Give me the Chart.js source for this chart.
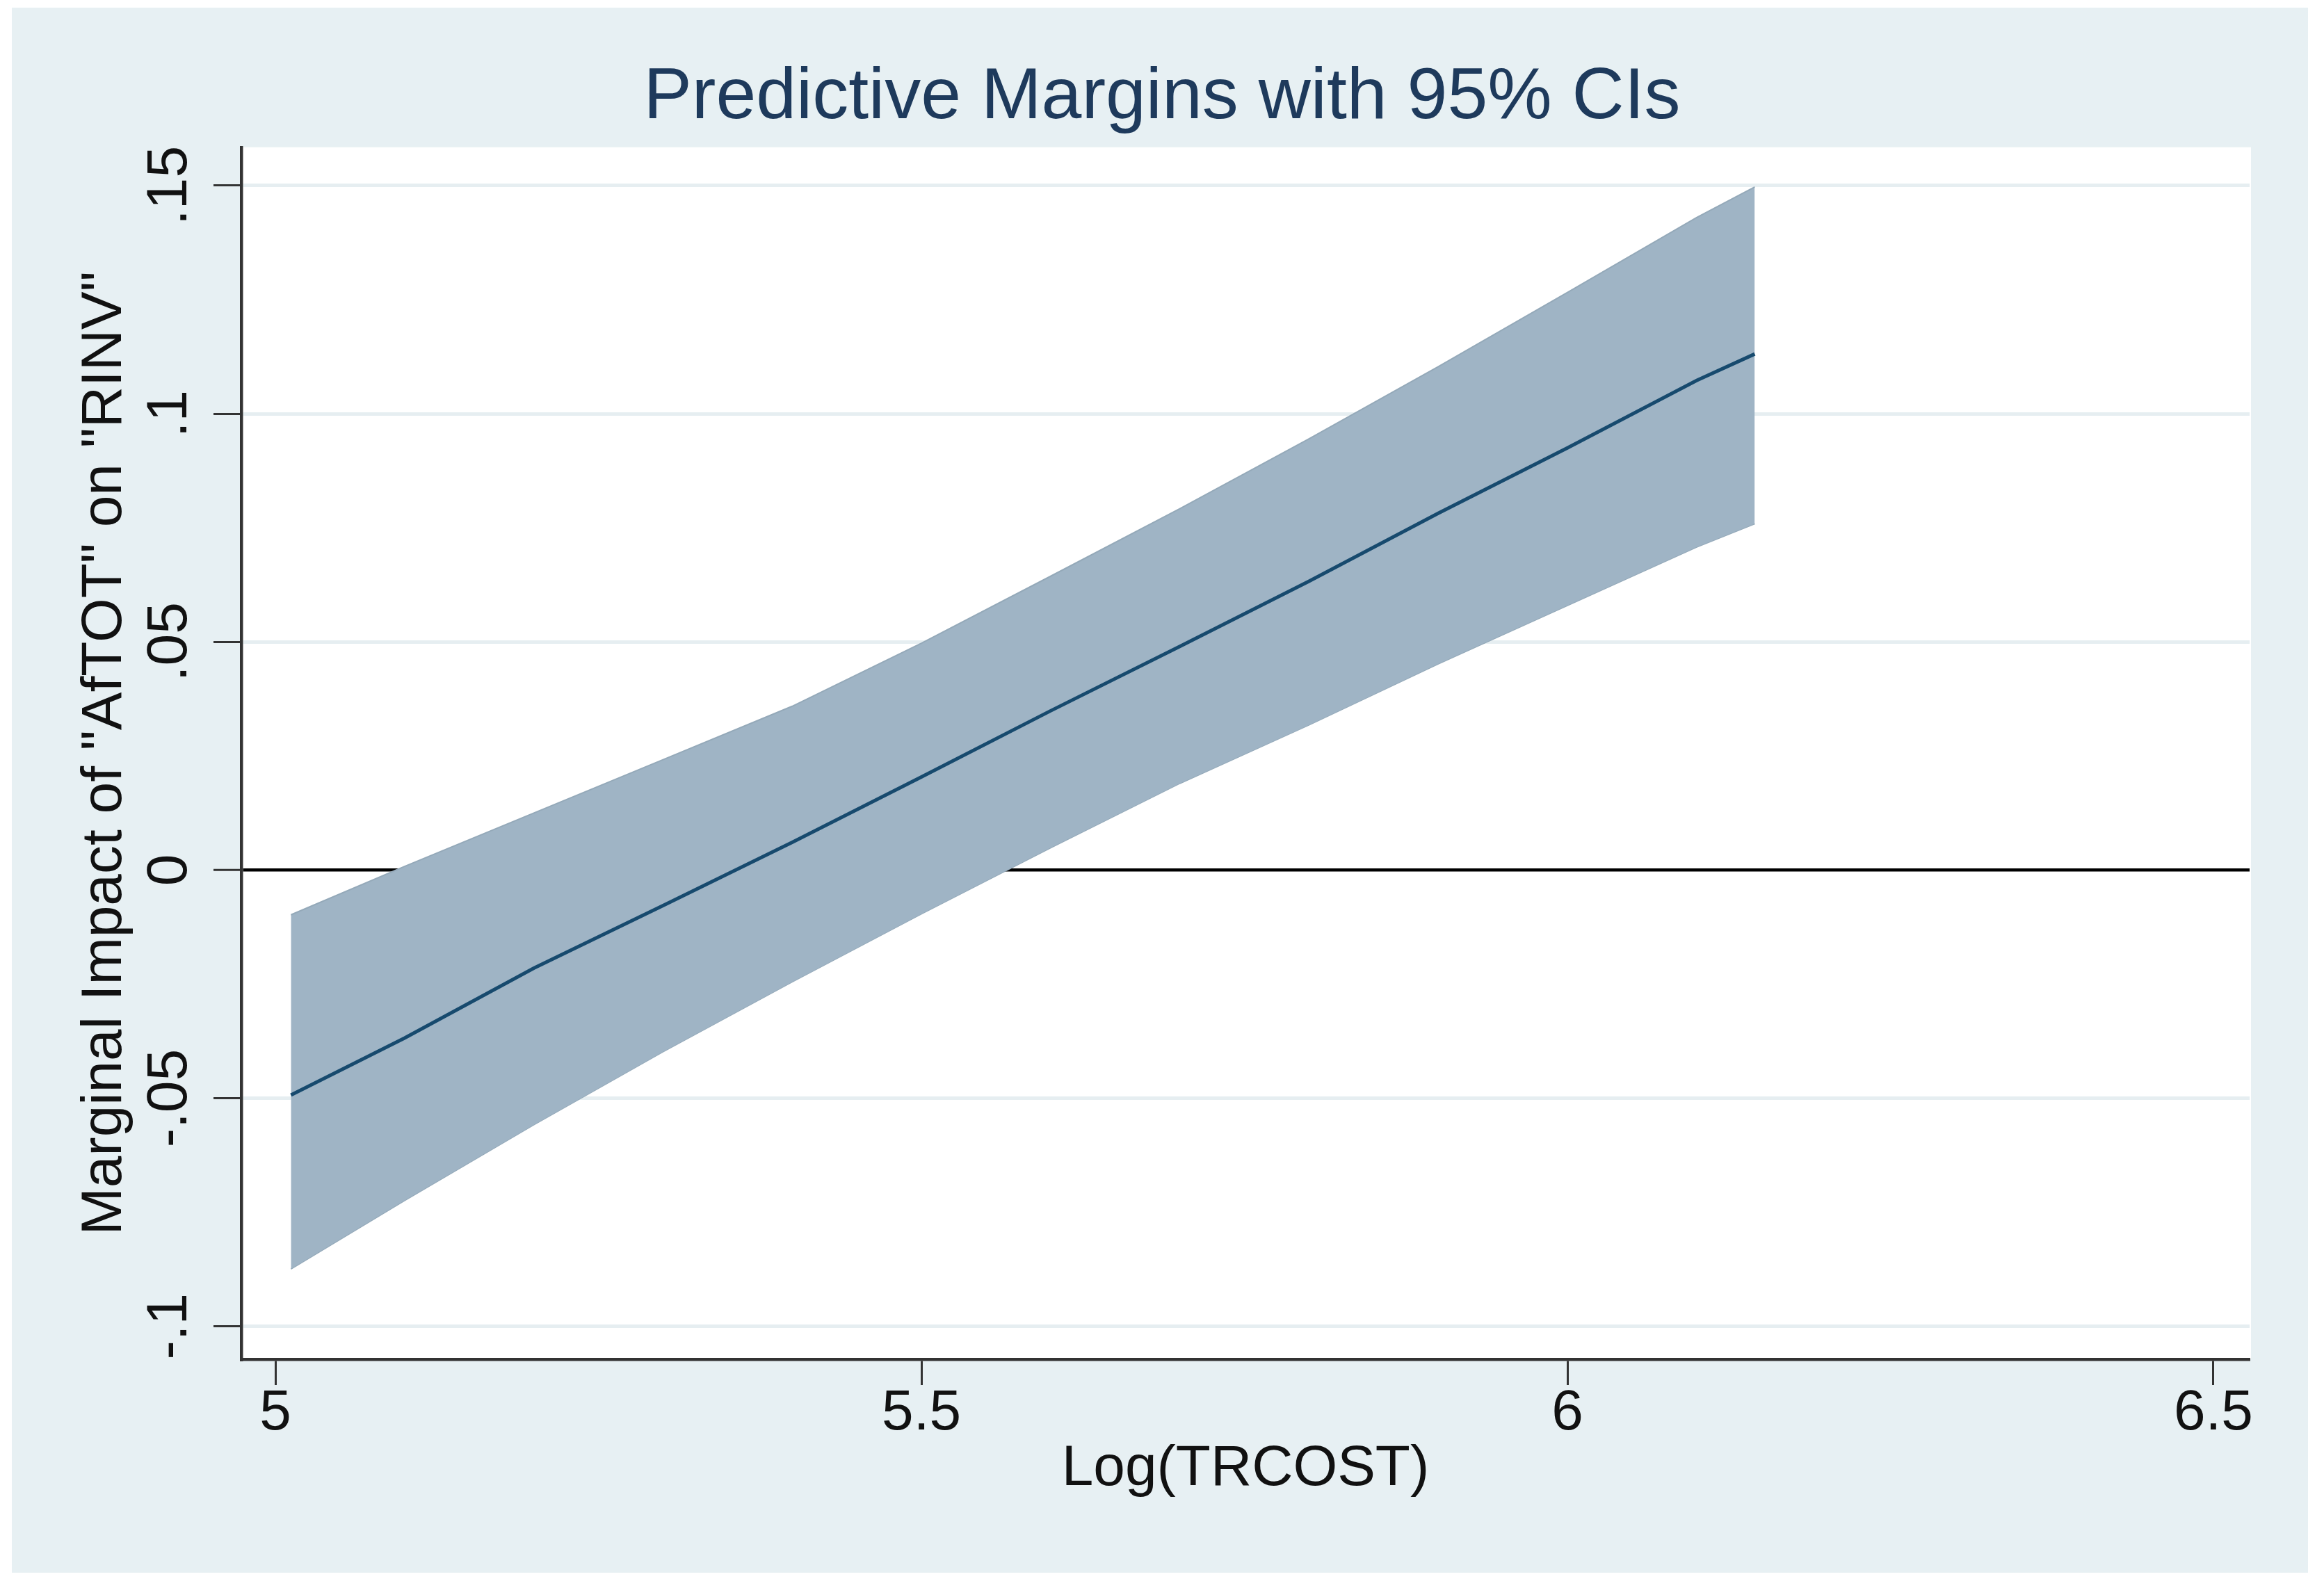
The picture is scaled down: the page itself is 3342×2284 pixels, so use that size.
<!DOCTYPE html>
<html>
<head>
<meta charset="utf-8">
<script src="https://cdn.jsdelivr.net/npm/chart.js@4.4.1/dist/chart.umd.min.js"></script>
<style>
  html, body { margin: 0; padding: 0; background: #ffffff; }
  canvas { display: block; }
</style>
</head>
<body>
<canvas id="c" width="3342" height="2284"></canvas>
<script>
// ---- Data ----
const titleText = 'Predictive Margins with 95% CIs';
const xAxisTitle = 'Log(TRCOST)';
const yAxisTitle = 'Marginal Impact of "AfTOT" on "RINV"';

const xValues = [5.012, 5.1, 5.2, 5.3, 5.4, 5.5, 5.6, 5.7, 5.8, 5.9, 6.0, 6.1, 6.145];
const margin  = [-0.0493, -0.0368, -0.0215, -0.0078, 0.0061, 0.0204, 0.0349, 0.0490, 0.0633, 0.0782, 0.0925, 0.1073, 0.1131];
const ciUpper = [-0.0098, 0.0008, 0.0125, 0.0242, 0.0359, 0.0497, 0.0644, 0.0792, 0.0945, 0.1103, 0.1266, 0.1430, 0.1497];
const ciLower = [-0.0874, -0.0724, -0.0558, -0.0398, -0.0245, -0.0096, 0.0049, 0.0190, 0.0318, 0.0452, 0.0580, 0.0708, 0.0759];

const xTickValues = [5, 5.5, 6, 6.5];
const xTickLabels = ['5', '5.5', '6', '6.5'];
const yTickValues = [-0.1, -0.05, 0, 0.05, 0.1, 0.15];
const yTickLabels = ['-.1', '-.05', '0', '.05', '.1', '.15'];

const xRange = [4.9736, 6.528];
const yRange = [-0.1072, 0.1584];

// ---- Styling ----
const FONT = "'Liberation Sans', Arial, Helvetica, sans-serif";
const BG_OUTER = '#e7f0f3';
const GRID = '#e6eef1';
const AXIS = '#333333';
const BAND_FILL = '#9fb4c5';
const BAND_EDGE = '#94a9b9';
const LINE = '#174a6e';

const toPoints = (ys) => xValues.map((x, i) => ({ x: x, y: ys[i] }));

const bgPlugin = {
  id: 'bgPlugin',
  beforeDraw(chart) {
    const { ctx, chartArea: a } = chart;
    ctx.save();
    ctx.fillStyle = '#ffffff';
    ctx.fillRect(0, 0, chart.width, chart.height);
    ctx.fillStyle = BG_OUTER;
    ctx.fillRect(17, 11, 3302, 2251);
    ctx.fillStyle = '#ffffff';
    ctx.fillRect(a.left, a.top, a.right - a.left + 2, a.bottom - a.top);
    ctx.restore();
  }
};

const yLabelPlugin = {
  id: 'yLabelPlugin',
  afterDraw(chart) {
    const s = chart.scales.y;
    const ctx = chart.ctx;
    ctx.save();
    ctx.font = '82px ' + FONT;
    ctx.fillStyle = '#111111';
    ctx.textAlign = 'center';
    ctx.textBaseline = 'alphabetic';
    s.ticks.forEach((t, i) => {
      const py = s.getPixelForValue(t.value);
      ctx.save();
      ctx.translate(s.right - 79, py);
      ctx.rotate(-Math.PI / 2);
      ctx.fillText(yTickLabels[i], 0, 0);
      ctx.restore();
    });
    ctx.restore();
  }
};

new Chart(document.getElementById('c'), {
  type: 'line',
  data: {
    datasets: [
      {
        label: 'Margin',
        data: toPoints(margin),
        borderColor: LINE,
        borderWidth: 5,
        pointRadius: 0,
        tension: 0,
        fill: false
      },
      {
        label: 'Upper CI',
        data: toPoints(ciUpper),
        borderColor: BAND_EDGE,
        borderWidth: 2,
        pointRadius: 0,
        tension: 0,
        backgroundColor: BAND_FILL,
        fill: '+1'
      },
      {
        label: 'Lower CI',
        data: toPoints(ciLower),
        borderColor: BAND_EDGE,
        borderWidth: 2,
        pointRadius: 0,
        tension: 0,
        fill: false
      }
    ]
  },
  options: {
    responsive: false,
    devicePixelRatio: 1,
    animation: false,
    layout: { padding: { top: 79, left: 107, right: 107, bottom: 0 } },
    plugins: {
      legend: { display: false },
      tooltip: { enabled: false },
      title: {
        display: true,
        text: titleText,
        color: '#1e3a5c',
        font: { family: FONT, size: 104, weight: 'normal', lineHeight: 1.2 },
        padding: { top: 0, bottom: 8 }
      }
    },
    scales: {
      x: {
        type: 'linear',
        position: 'bottom',
        min: xRange[0],
        max: xRange[1],
        afterBuildTicks: (s) => { s.ticks = xTickValues.map(v => ({ value: v })); },
        afterFit: (s) => { s.height = 329; },
        ticks: {
          callback: (v, i) => xTickLabels[i],
          font: { family: FONT, size: 82, lineHeight: 1 },
          color: '#111111',
          padding: 0,
          maxRotation: 0,
          minRotation: 0,
          autoSkip: false
        },
        grid: {
          drawOnChartArea: false,
          drawTicks: true,
          tickLength: 37,
          tickColor: AXIS,
          tickWidth: 3
        },
        border: { display: true, color: AXIS, width: 4.5 },
        title: {
          display: true,
          text: xAxisTitle,
          color: '#111111',
          font: { family: FONT, size: 82, lineHeight: 1 },
          padding: { top: 0, bottom: 130 }
        }
      },
      y: {
        type: 'linear',
        position: 'left',
        min: yRange[0],
        max: yRange[1],
        afterBuildTicks: (s) => { s.ticks = yTickValues.map(v => ({ value: v })); },
        afterFit: (s) => { s.width = 240; },
        ticks: { display: false },
        grid: {
          color: (ctx) => (ctx.tick && ctx.tick.value === 0) ? '#000000' : GRID,
          lineWidth: (ctx) => (ctx.tick && ctx.tick.value === 0) ? 4.5 : 5,
          drawTicks: true,
          tickLength: 40,
          tickColor: AXIS,
          tickWidth: 3
        },
        border: { display: true, color: AXIS, width: 4.5 },
        title: {
          display: true,
          text: yAxisTitle,
          color: '#111111',
          font: { family: FONT, size: 82, lineHeight: 1 },
          padding: { top: 3.6, bottom: 0 }
        }
      }
    }
  },
  plugins: [bgPlugin, yLabelPlugin]
});
</script>
</body>
</html>
